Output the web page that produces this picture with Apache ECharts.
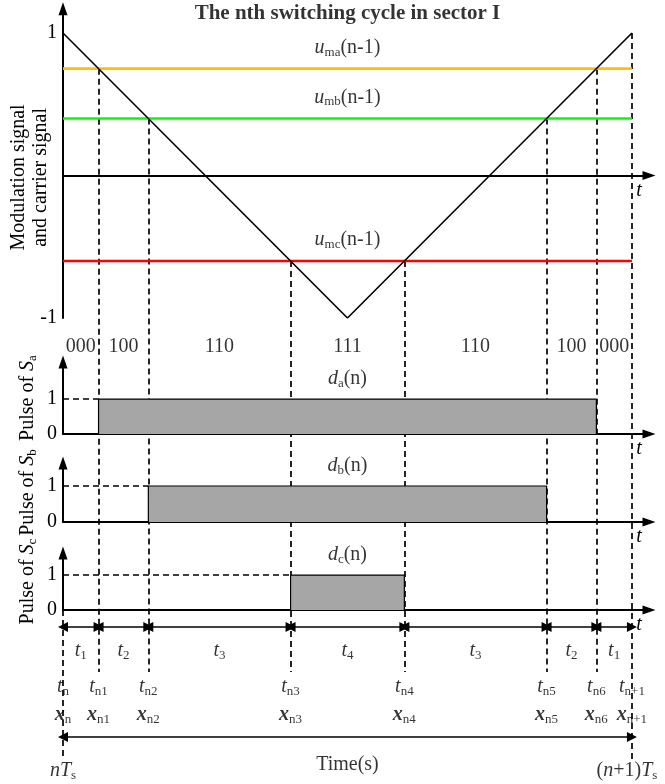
<!DOCTYPE html>
<html><head><meta charset="utf-8">
<script src="https://cdn.jsdelivr.net/npm/echarts@6/dist/echarts.min.js"></script>
<style>html,body{margin:0;padding:0;background:#fff}#c{width:665px;height:784px}</style>
</head><body><div id="c"></div>
<script>
// ---------------- data ----------------
const carrierT = [0, 0.5, 1];
const carrierV = [1, -1, 1];
const modNames = ['ma', 'mb', 'mc'];
const modValues = [0.75, 0.4, -0.6];
const modColors = ['#FFC000', '#00FF00', '#FF0000'];
const switchT = [0, 0.0625, 0.15, 0.4, 0.6, 0.85, 0.9375, 1];
const switchMod = [null, 0, 1, 2, 2, 1, 0, null];   // which modulation line each switching instant crosses
const stateCodes = ['000', '100', '110', '111', '110', '100', '000'];
const intervalNames = ['1', '2', '3', '4', '3', '2', '1'];
const timeSubs = ['n', 'n1', 'n2', 'n3', 'n4', 'n5', 'n6', 'n+1'];
const pulseNames = ['a', 'b', 'c'];
const pulseOn = [0.0625, 0.15, 0.4];
const pulseOff = [0.9375, 0.85, 0.6];
const topTickLabels = [-1, 1];
const pulseTickLabels = [0, 1];

// ---------------- layout ----------------
const FONT = '"Liberation Serif", "Times New Roman", serif';
const X_MAX = 1.03, LEFT = 63, WIDTH = 586;
const GRIDS = [
  {top: 8.8, height: 309.2, min: -1, max: 1.17},
  {top: 362, height: 72, min: 0, max: 2.06},
  {top: 463, height: 59, min: 0, max: 1.64},
  {top: 553, height: 57, min: 0, max: 1.63}
];
const ROW = {title: 14, code: 347, arrow: 627, interval: 651, tn: 687, xn: 715, long: 737, time: 765, ts: 771, dashEnd: 672, dashEndOuter: 760};

const rich = {
  n: {fontFamily: FONT, fontSize: 20, lineHeight: 22, color: '#000'},
  i: {fontFamily: FONT, fontSize: 20, lineHeight: 22, fontStyle: 'italic', color: '#000'},
  bi: {fontFamily: FONT, fontSize: 20, lineHeight: 22, fontStyle: 'italic', fontWeight: 'bold', color: '#000'},
  b: {fontFamily: FONT, fontSize: 21, lineHeight: 22, fontWeight: 'bold', color: '#000'},
  s: {fontFamily: FONT, fontSize: 13, lineHeight: 12, verticalAlign: 'bottom', color: '#000'}
};

const axisLineStyle = {color: '#000', width: 2};
function xAx(g, visible) {
  if (!visible) return {type: 'value', gridIndex: g, min: 0, max: X_MAX, show: false};
  return {
    type: 'value', gridIndex: g, min: 0, max: X_MAX,
    axisLine: {show: true, onZero: true, lineStyle: axisLineStyle, symbol: ['none', 'triangle'], symbolSize: [9, 13]},
    axisTick: {show: false}, axisLabel: {show: false}, splitLine: {show: false},
    name: 't', nameLocation: 'end', nameGap: -10, nameMoveOverlap: false,
    nameTextStyle: {fontFamily: FONT, fontStyle: 'italic', fontSize: 20, color: '#000', align: 'center', verticalAlign: 'top', padding: [5, 0, 0, 0]}
  };
}
function yAx(g, labels, name, gap, pad) {
  const G = GRIDS[g];
  return {
    type: 'value', gridIndex: g, min: G.min, max: G.max, interval: 1,
    axisLine: {show: true, onZero: true, lineStyle: axisLineStyle, symbol: ['none', 'triangle'], symbolSize: [9, 13]},
    axisTick: {show: false}, splitLine: {show: false},
    axisLabel: {show: true, margin: 6, color: '#000', fontFamily: FONT, fontSize: 20,
      formatter: v => labels.indexOf(v) >= 0 ? String(v) : ''},
    name: name, nameLocation: 'middle', nameRotate: 90, nameGap: gap, nameMoveOverlap: false,
    nameTextStyle: {fontFamily: FONT, fontSize: 20, lineHeight: 22, color: '#000', padding: pad, rich: rich}
  };
}

const grids = GRIDS.map(G => ({left: LEFT, width: WIDTH, top: G.top, height: G.height, containLabel: false, outerBoundsMode: 'none'}));
grids.push({left: LEFT, width: WIDTH, top: 0, height: 784, containLabel: false, outerBoundsMode: 'none'});
const xAxes = [xAx(0, true), xAx(1, true), xAx(2, true), xAx(3, true), xAx(4, false)];
const yAxes = [
  yAx(0, topTickLabels, 'Modulation signal\nand carrier signal', 11, [0, 28, 0, 0]),
  yAx(1, pulseTickLabels, 'Pulse of {i|S}{s|a}', 24, [0, 0, 0, 0]),
  yAx(2, pulseTickLabels, 'Pulse of {i|S}{s|b}', 24, [0, 0, 0, 0]),
  yAx(3, pulseTickLabels, 'Pulse of {i|S}{s|c}', 24, [0, 0, 0, 0]),
  {type: 'value', gridIndex: 4, min: 0, max: 784, inverse: true, show: false}
];

const series = [];
// carrier
series.push({type: 'line', xAxisIndex: 0, yAxisIndex: 0, symbol: 'none', silent: true, z: 4,
  lineStyle: {color: '#000', width: 1.6}, data: carrierT.map((t, k) => [t, carrierV[k]])});
// modulation signals
modValues.forEach((u, k) => {
  series.push({type: 'line', xAxisIndex: 0, yAxisIndex: 0, symbol: 'none', silent: true, z: 3,
    lineStyle: {color: modColors[k], width: 2.6}, data: [[carrierT[0], u], [carrierT[carrierT.length - 1], u]]});
  series.push({type: 'scatter', xAxisIndex: 0, yAxisIndex: 0, symbolSize: 0, silent: true, z: 10, clip: false,
    data: [[0.5, u]],
    label: {show: true, position: 'top', distance: 10, rich: rich, formatter: '{i|u}{s|' + modNames[k] + '}{n|(n-1)}'}});
});
// pulses
pulseNames.forEach((p, k) => {
  const g = k + 1;
  series.push({type: 'line', xAxisIndex: g, yAxisIndex: g, symbol: 'none', silent: true, z: 5,
    lineStyle: {color: '#000', width: 1.2}, areaStyle: {color: '#a6a6a6', opacity: 1},
    data: [[pulseOn[k], 0], [pulseOn[k], 1], [pulseOff[k], 1], [pulseOff[k], 0]]});
  series.push({type: 'line', xAxisIndex: g, yAxisIndex: g, symbol: 'none', silent: true, z: 1,
    lineStyle: {color: '#000', width: 1.6, type: [6, 4]}, data: [[0, 1], [pulseOn[k], 1]]});
  series.push({type: 'scatter', xAxisIndex: g, yAxisIndex: g, symbolSize: 0, silent: true, z: 10, clip: false,
    data: [[0.5, 1]],
    label: {show: true, position: 'top', distance: 9, rich: rich, formatter: '{i|d}{s|' + p + '}{n|(n)}'}});
});

// overlay texts
const texts = [];
texts.push({x: 0.5, y: ROW.title, t: '{b|The nth switching cycle in sector I}'});
stateCodes.forEach((c, k) => texts.push({x: (switchT[k] + switchT[k + 1]) / 2, y: ROW.code, t: '{n|' + c + '}'}));
intervalNames.forEach((c, k) => texts.push({x: (switchT[k] + switchT[k + 1]) / 2, y: ROW.interval, t: '{i|t}{s|' + c + '}'}));
timeSubs.forEach((c, k) => {
  texts.push({x: switchT[k], y: ROW.tn, t: '{i|t}{s|' + c + '}'});
  texts.push({x: switchT[k], y: ROW.xn, t: '{bi|x}{s|' + c + '}'});
});
texts.push({x: 0.5, y: ROW.time, t: '{n|Time(s)}'});
texts.push({x: switchT[0], y: ROW.ts, t: '{i|nT}{s|s}'});
texts.push({x: switchT[switchT.length - 1], y: ROW.ts, t: '{n|(}{i|n}{n|+1)}{i|T}{s|s}', off: [-5, 0]});
series.push({type: 'scatter', xAxisIndex: 4, yAxisIndex: 4, symbolSize: 0, silent: true, z: 10, clip: false,
  data: texts.map(o => ({value: [o.x, o.y], label: {formatter: o.t, offset: o.off || [0, 0]}})),
  label: {show: true, position: 'inside', rich: rich, color: '#000'}});

// arrows
const arrowData = [];
for (let k = 0; k < switchT.length - 1; k++) arrowData.push([{coord: [switchT[k], ROW.arrow]}, {coord: [switchT[k + 1], ROW.arrow]}]);
arrowData.push([{coord: [switchT[0], ROW.long]}, {coord: [switchT[switchT.length - 1], ROW.long]}]);
series.push({type: 'line', xAxisIndex: 4, yAxisIndex: 4, data: [], silent: true,
  markLine: {silent: true, animation: false, symbol: ['triangle', 'triangle'], symbolSize: 10, z: 6,
    label: {show: false}, emphasis: {disabled: true}, lineStyle: {color: '#000', width: 1.6, type: 'solid'}, data: arrowData}});
// placeholder for dashed guides
series.push({id: 'dash', type: 'line', xAxisIndex: 4, yAxisIndex: 4, data: [], silent: true, z: 1});

const chart = echarts.init(document.getElementById('c'), null, {renderer: 'canvas'});
chart.setOption({animation: false, backgroundColor: '#fff', grid: grids, xAxis: xAxes, yAxis: yAxes, series: series});

// dashed guide lines: tops computed through the library scales
const dashData = switchT.map((t, k) => {
  let top, bottom = ROW.dashEnd;
  if (switchMod[k] !== null) top = chart.convertToPixel({gridIndex: 0}, [t, modValues[switchMod[k]]])[1];
  else if (k === 0) { top = chart.convertToPixel({gridIndex: 3}, [t, 0])[1]; bottom = ROW.dashEndOuter; }
  else { top = chart.convertToPixel({gridIndex: 0}, [t, carrierV[carrierV.length - 1]])[1]; bottom = ROW.dashEndOuter; }
  return [{coord: [t, top]}, {coord: [t, bottom]}];
});
chart.setOption({series: [{id: 'dash',
  markLine: {silent: true, animation: false, symbol: 'none', z: 1, label: {show: false}, emphasis: {disabled: true},
    lineStyle: {color: '#000', width: 1.7, type: [6, 4]}, data: dashData}}]});
</script></body></html>
